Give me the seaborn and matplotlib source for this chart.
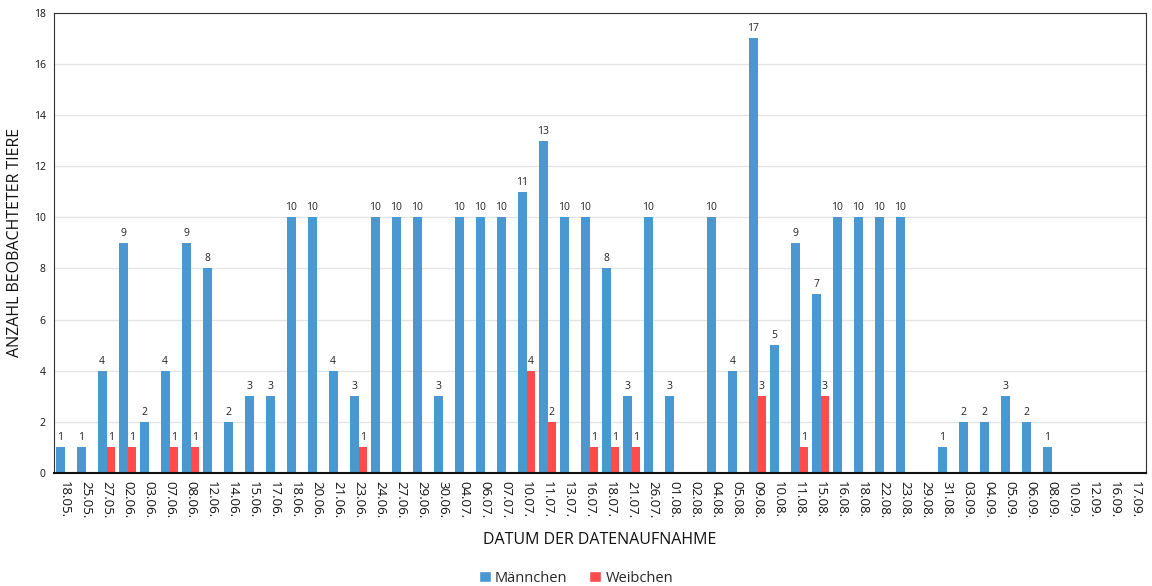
import matplotlib
matplotlib.use("Agg")
import matplotlib.pyplot as plt
import seaborn as sns
import pandas as pd
from matplotlib.patches import Patch

dates = ["18.05.", "25.05.", "27.05.", "02.06.", "03.06.", "07.06.", "08.06.", "12.06.",
         "14.06.", "15.06.", "17.06.", "18.06.", "20.06.", "21.06.", "23.06.", "24.06.",
         "27.06.", "29.06.", "30.06.", "04.07.", "06.07.", "07.07.", "10.07.", "11.07.",
         "13.07.", "16.07.", "18.07.", "21.07.", "26.07.", "01.08.", "02.08.", "04.08.",
         "05.08.", "09.08.", "10.08.", "11.08.", "15.08.", "16.08.", "18.08.", "22.08.",
         "23.08.", "29.08.", "31.08.", "03.09.", "04.09.", "05.09.", "06.09.", "08.09.",
         "10.09.", "12.09.", "16.09.", "17.09."]
maennchen = [1, 1, 4, 9, 2, 4, 9, 8, 2, 3, 3, 10, 10, 4, 3, 10, 10, 10, 3, 10, 10, 10, 11, 13,
             10, 10, 8, 3, 10, 3, 0, 10, 4, 17, 5, 9, 7, 10, 10, 10, 10, 0, 1, 2, 2, 3, 2, 1,
             0, 0, 0, 0]
weibchen = [0, 0, 1, 1, 0, 1, 1, 0, 0, 0, 0, 0, 0, 0, 1, 0, 0, 0, 0, 0, 0, 0, 4, 2,
            0, 1, 1, 1, 0, 0, 0, 0, 0, 3, 0, 1, 3, 0, 0, 0, 0, 0, 0, 0, 0, 0, 0, 0,
            0, 0, 0, 0]
series = ["Männchen", "Weibchen"]
colors = ["#4A98D2", "#FF4B4B"]

df = pd.DataFrame({
    "Datum": dates * 2,
    "Geschlecht": [series[0]] * len(dates) + [series[1]] * len(dates),
    "Anzahl": maennchen + weibchen,
})

sns.set_theme(style="white")
plt.rcParams["font.family"] = ["Open Sans", "DejaVu Sans"]

fig = plt.figure(figsize=(11.52, 5.86), dpi=100)
ax = fig.add_axes([0.0469, 0.193, 0.948, 0.785])

sns.barplot(data=df, x="Datum", y="Anzahl", hue="Geschlecht", order=dates,
            hue_order=series, palette=colors, width=0.82, ax=ax, legend=False,
            saturation=1, linewidth=0)

for cont in ax.containers:
    labels = [f"{int(v)}" if v > 0 else "" for v in cont.datavalues]
    ax.bar_label(cont, labels=labels, padding=3, fontsize=7.5, color="#222222")

ax.set_ylim(0, 18)
ax.set_yticks(range(0, 19, 2))
ax.set_xlim(-0.5, len(dates) - 0.5)
ax.yaxis.grid(True, color="#e3e3e3", linewidth=0.9)
ax.set_axisbelow(True)
ax.tick_params(axis="y", labelsize=7.5, length=0, pad=6, colors="#111111")
ax.tick_params(axis="x", labelsize=9.5, length=0, pad=6, rotation=-90, colors="#111111")
for s in ax.spines.values():
    s.set_visible(True)
    s.set_color("#333333")
    s.set_linewidth(0.8)
ax.spines["bottom"].set_linewidth(1.5)
ax.spines["bottom"].set_color("#111111")

ax.set_ylabel("ANZAHL BEOBACHTETER TIERE", fontsize=11.5, color="#111111", labelpad=8)
ax.set_xlabel("DATUM DER DATENAUFNAHME", fontsize=11.5, color="#111111", labelpad=10)

handles = [Patch(facecolor=c, label=s) for c, s in zip(colors, series)]
fig.legend(handles=handles, loc="lower center", bbox_to_anchor=(0.5, -0.022), ncol=2,
           frameon=False, fontsize=10.5, handlelength=0.8, handleheight=0.8,
           handletextpad=0.3, columnspacing=1.5)

fig.savefig("out.png", dpi=100)
